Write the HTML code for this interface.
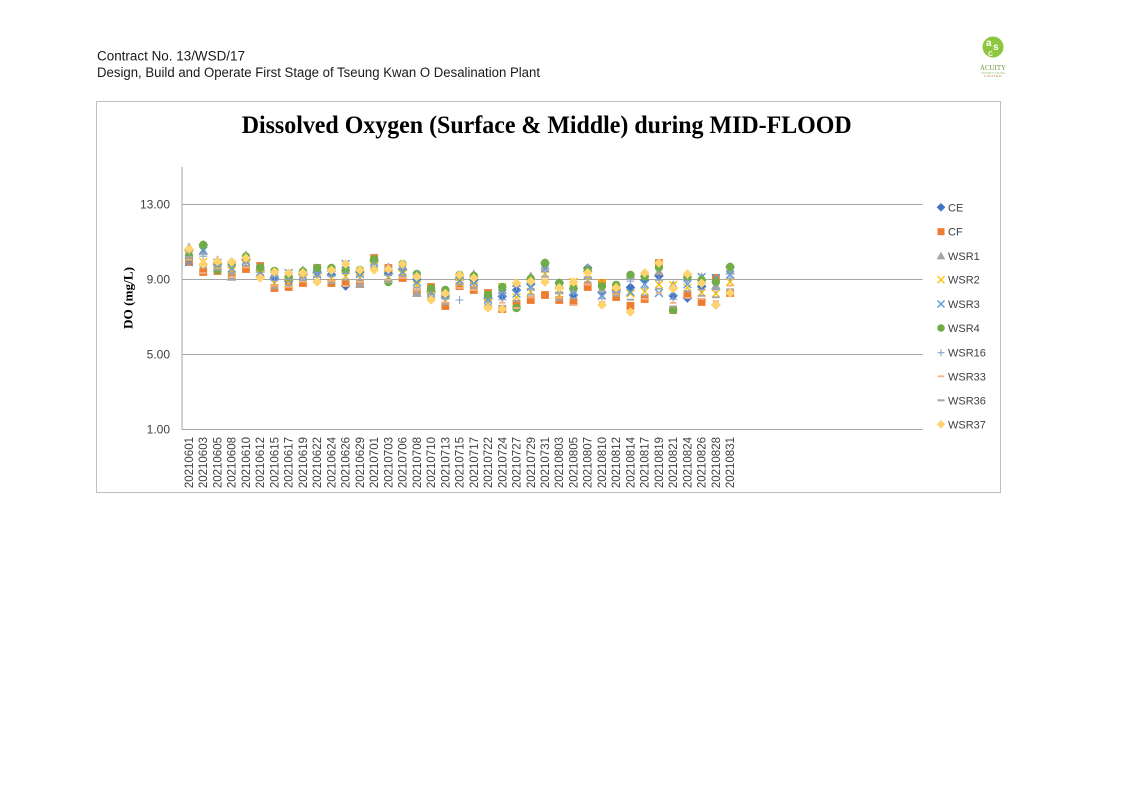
<!DOCTYPE html>
<html>
<head>
<meta charset="utf-8">
<style>
  html,body{margin:0;padding:0;background:#ffffff;}
  svg{display:block;}
  .hdr{font-family:"Liberation Sans",sans-serif;font-size:13.5px;fill:#1a1a1a;}
  .ttl{font-family:"Liberation Serif",serif;font-weight:bold;font-size:25px;fill:#000;}
  .yl{font-family:"Liberation Sans",sans-serif;font-size:12px;fill:#404040;}
  .xl{font-family:"Liberation Sans",sans-serif;font-size:11.5px;fill:#404040;}
  .lg{font-family:"Liberation Sans",sans-serif;font-size:11px;fill:#404040;}
  .yt{font-family:"Liberation Serif",serif;font-weight:bold;font-size:13px;fill:#000;}
</style>
</head>
<body>
<svg id="s" width="1123" height="794" viewBox="0 0 1123 794" xmlns="http://www.w3.org/2000/svg">
  <rect x="0" y="0" width="1123" height="794" fill="#ffffff"/>

  <!-- header -->
  <text class="hdr" x="97" y="60.5" textLength="148" lengthAdjust="spacingAndGlyphs">Contract No. 13/WSD/17</text>
  <text class="hdr" x="97" y="77" textLength="443" lengthAdjust="spacingAndGlyphs">Design, Build and Operate First Stage of Tseung Kwan O Desalination Plant</text>

  <!-- logo -->
  <circle cx="993" cy="47" r="10.5" fill="#8DC63F"/>
  <text x="986" y="46" font-family="Liberation Sans,sans-serif" font-size="10" font-weight="bold" fill="#ffffff">a</text>
  <text x="993" y="50" font-family="Liberation Sans,sans-serif" font-size="10" font-weight="bold" fill="#ffffff">s</text>
  <text x="988" y="56" font-family="Liberation Sans,sans-serif" font-size="9" font-weight="bold" fill="#eaf5d8">c</text>
  <text x="993" y="70" text-anchor="middle" font-family="Liberation Serif,serif" font-size="7.5" fill="#6E9A3C" textLength="26" lengthAdjust="spacingAndGlyphs">ACUITY</text>
  <text x="993" y="74" text-anchor="middle" font-family="Liberation Sans,sans-serif" font-size="2.6" fill="#9bbb6a" textLength="24" lengthAdjust="spacingAndGlyphs">SUSTAINABILITY CONSULTING</text>
  <text x="993" y="77" text-anchor="middle" font-family="Liberation Sans,sans-serif" font-size="2.6" fill="#c9a063" textLength="18" lengthAdjust="spacingAndGlyphs">LIMITED</text>

  <!-- chart box -->
  <rect x="96.5" y="101.5" width="904" height="391" fill="#ffffff" stroke="#BFBFBF" stroke-width="1"/>

  <text class="ttl" x="241.7" y="133" textLength="610" lengthAdjust="spacingAndGlyphs">Dissolved Oxygen (Surface &amp; Middle) during MID-FLOOD</text>

  <!-- gridlines -->
  <g stroke="#A6A6A6" stroke-width="1">
    <line x1="182" y1="204.5" x2="922.5" y2="204.5"/>
    <line x1="182" y1="279.5" x2="922.5" y2="279.5"/>
    <line x1="182" y1="354.5" x2="922.5" y2="354.5"/>
    <line x1="182" y1="429.5" x2="922.5" y2="429.5"/>
    <line x1="182" y1="167" x2="182" y2="429.5"/>
  </g>

  <!-- y labels -->
  <text class="yl" x="170" y="208.5" text-anchor="end">13.00</text>
  <text class="yl" x="170" y="283.5" text-anchor="end">9.00</text>
  <text class="yl" x="170" y="358.5" text-anchor="end">5.00</text>
  <text class="yl" x="170" y="433.5" text-anchor="end">1.00</text>

  <text class="yt" transform="translate(132.5,298) rotate(-90)" text-anchor="middle" textLength="62" lengthAdjust="spacingAndGlyphs">DO (mg/L)</text>

  <!-- x labels -->
  <g class="xl" text-anchor="end">
    <text transform="translate(193.0,437) rotate(-90)">20210601</text>
    <text transform="translate(207.2,437) rotate(-90)">20210603</text>
    <text transform="translate(221.5,437) rotate(-90)">20210605</text>
    <text transform="translate(235.7,437) rotate(-90)">20210608</text>
    <text transform="translate(250.0,437) rotate(-90)">20210610</text>
    <text transform="translate(264.2,437) rotate(-90)">20210612</text>
    <text transform="translate(278.4,437) rotate(-90)">20210615</text>
    <text transform="translate(292.7,437) rotate(-90)">20210617</text>
    <text transform="translate(306.9,437) rotate(-90)">20210619</text>
    <text transform="translate(321.2,437) rotate(-90)">20210622</text>
    <text transform="translate(335.4,437) rotate(-90)">20210624</text>
    <text transform="translate(349.6,437) rotate(-90)">20210626</text>
    <text transform="translate(363.9,437) rotate(-90)">20210629</text>
    <text transform="translate(378.1,437) rotate(-90)">20210701</text>
    <text transform="translate(392.4,437) rotate(-90)">20210703</text>
    <text transform="translate(406.6,437) rotate(-90)">20210706</text>
    <text transform="translate(420.8,437) rotate(-90)">20210708</text>
    <text transform="translate(435.1,437) rotate(-90)">20210710</text>
    <text transform="translate(449.3,437) rotate(-90)">20210713</text>
    <text transform="translate(463.6,437) rotate(-90)">20210715</text>
    <text transform="translate(477.8,437) rotate(-90)">20210717</text>
    <text transform="translate(492.0,437) rotate(-90)">20210722</text>
    <text transform="translate(506.3,437) rotate(-90)">20210724</text>
    <text transform="translate(520.5,437) rotate(-90)">20210727</text>
    <text transform="translate(534.8,437) rotate(-90)">20210729</text>
    <text transform="translate(549.0,437) rotate(-90)">20210731</text>
    <text transform="translate(563.2,437) rotate(-90)">20210803</text>
    <text transform="translate(577.5,437) rotate(-90)">20210805</text>
    <text transform="translate(591.7,437) rotate(-90)">20210807</text>
    <text transform="translate(606.0,437) rotate(-90)">20210810</text>
    <text transform="translate(620.2,437) rotate(-90)">20210812</text>
    <text transform="translate(634.4,437) rotate(-90)">20210814</text>
    <text transform="translate(648.7,437) rotate(-90)">20210817</text>
    <text transform="translate(662.9,437) rotate(-90)">20210819</text>
    <text transform="translate(677.2,437) rotate(-90)">20210821</text>
    <text transform="translate(691.4,437) rotate(-90)">20210824</text>
    <text transform="translate(705.6,437) rotate(-90)">20210826</text>
    <text transform="translate(719.9,437) rotate(-90)">20210828</text>
    <text transform="translate(734.1,437) rotate(-90)">20210831</text>
  </g>

  <!-- legend text -->
  <g class="lg">
    <text x="948" y="211.3">CE</text>
    <text x="948" y="235.7">CF</text>
    <text x="948" y="260">WSR1</text>
    <text x="948" y="283.7">WSR2</text>
    <text x="948" y="308">WSR3</text>
    <text x="948" y="332">WSR4</text>
    <text x="948" y="356.7">WSR16</text>
    <text x="948" y="380.3">WSR33</text>
    <text x="948" y="404.3">WSR36</text>
    <text x="948" y="428.3">WSR37</text>
  </g>

  <g id="markers"></g>
  <g id="legm"></g>
</svg>
<script>
(function(){
  function mk(s,x,y,sc){
    var k=sc||1;
    var d=4.8*k, q=3.9*k, r=4.2*k;
    switch(s){
      case 0: return '<path d="M'+x+' '+(y-d)+'L'+(x+d)+' '+y+'L'+x+' '+(y+d)+'L'+(x-d)+' '+y+'Z" fill="#4472C4"/>';
      case 1: return '<rect x="'+(x-q)+'" y="'+(y-q)+'" width="'+(2*q)+'" height="'+(2*q)+'" fill="#ED7D31"/>';
      case 2: return '<path d="M'+x+' '+(y-d)+'L'+(x+d)+' '+(y+3.8*k)+'L'+(x-d)+' '+(y+3.8*k)+'Z" fill="#A5A5A5"/>';
      case 3: return '<path d="M'+(x-q)+' '+(y-q)+'L'+(x+q)+' '+(y+q)+'M'+(x+q)+' '+(y-q)+'L'+(x-q)+' '+(y+q)+'" stroke="#FFC000" stroke-width="1.4" fill="none"/>';
      case 4: return '<path d="M'+(x-q)+' '+(y-q)+'L'+(x+q)+' '+(y+q)+'M'+(x+q)+' '+(y-q)+'L'+(x-q)+' '+(y+q)+'" stroke="#5B9BD5" stroke-width="1.4" fill="none"/>';
      case 5: return '<circle cx="'+x+'" cy="'+y+'" r="'+r+'" fill="#70AD47"/>';
      case 6: return '<path d="M'+(x-q)+' '+y+'L'+(x+q)+' '+y+'M'+x+' '+(y-q)+'L'+x+' '+(y+q)+'" stroke="#8EA0CC" stroke-width="1.1" fill="none"/>';
      case 7: return '<rect x="'+(x-3.2)+'" y="'+(y-0.9)+'" width="6.4" height="1.8" fill="#F4B183"/>';
      case 8: return '<rect x="'+(x-3.6)+'" y="'+(y-1)+'" width="7.2" height="2" fill="#A5A5A5"/>';
      case 9: return '<path d="M'+x+' '+(y-d)+'L'+(x+d)+' '+y+'L'+x+' '+(y+d)+'L'+(x-d)+' '+y+'Z" fill="#FFD36E"/>';
    }
    return '';
  }
  var D=[
    [247,262,{4:262,9:249,5:256}],
    [245,273,{5:245,2:251,1:272,9:264}],
    [260,271,{5:270}],
    [262,277,{0:262,2:277}],
    [255,269,{}],
    [266,278,{6:278}],
    [271,288,{1:288,9:272}],
    [273,287,{4:273,1:287}],
    [270,283,{}],
    [268,283,{1:268,9:282}],
    [268,283,{2:268,1:283}],
    [264,286,{4:264,0:286}],
    [270,284,{5:270,2:284}],
    [258,270,{2:258}],
    [267,282,{5:282,1:268}],
    [264,278,{5:264,1:278}],
    [274,293,{6:274,2:293}],
    [287,300,{}],
    [290,306,{}],
    [275,288,{6:300,5:275}],
    [274,290,{1:290}],
    [293,308,{}],
    [287,309,{3:287,9:309}],
    [283,308,{9:283,5:308}],
    [276,300,{}],
    [263,282,{0:263,1:295}],
    [283,300,{0:283,1:300}],
    [282,305,{3:282,4:292}],
    [268,287,{0:268}],
    [283,305,{8:305,3:283}],
    [285,297,{}],
    [275,312,{2:275,4:292,9:312}],
    [273,299,{9:273,1:299}],
    [263,293,{9:263,4:293}],
    [285,310,{3:285,5:310}],
    [274,298,{2:274,0:298}],
    [277,302,{4:277}],
    [278,305,{4:278,0:305}],
    [267,293,{0:267,9:293}]
  ];
  var P=[
    [2,5,9,0,4,6,3,8,7,1],
    [1,5,2,0,4,6,3,8,7,9],
    [5,2,9,4,0,6,3,7,8,1],
    [9,2,5,6,0,4,3,8,1,7]
  ];
  var out='';
  var X0=189,DX=14.24;
  for(var i=0;i<D.length;i++){
    var t=D[i][0],b=D[i][1],o=D[i][2];
    var x=X0+i*DX;
    var ys={};
    for(var k in o){ys[k]=o[k];}
    var rest=P[i%4].filter(function(s){return !(s in o);});
    var n=rest.length;
    for(var j=0;j<n;j++){
      ys[rest[j]] = n>1 ? t+(b-t)*j/(n-1) : (t+b)/2;
    }
    for(var s=0;s<10;s++){
      out+=mk(s,+x.toFixed(2),+(+ys[s]).toFixed(2),1);
    }
  }
  document.getElementById('markers').innerHTML=out;
  var ly=[207.3,231.7,256,279.7,304,328,352.7,376.3,400.3,424.3];
  var lo='';
  for(var s=0;s<10;s++){lo+=mk(s,941,ly[s],0.9);}
  document.getElementById('legm').innerHTML=lo;
})();
</script>
</body>
</html>
